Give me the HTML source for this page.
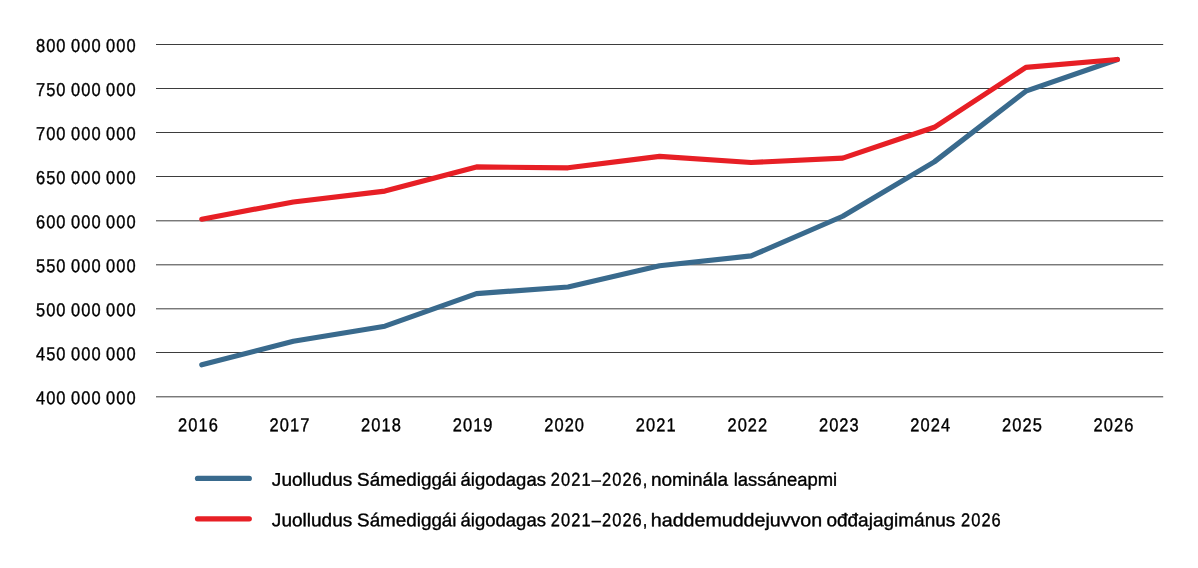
<!DOCTYPE html>
<html lang="se">
<head>
<meta charset="utf-8">
<title>Juolludus Sámediggái áigodagas 2021–2026</title>
<style>
html,body{margin:0;padding:0;background:#fff;}
svg{display:block;}
text{font-family:"Liberation Sans",sans-serif;fill:#000;stroke:#000;stroke-width:0.37px;stroke-linejoin:round;}
</style>
</head>
<body>
<svg width="1198" height="568" viewBox="0 0 1198 568">
<rect width="1198" height="568" fill="#fff"/>
<g stroke="#3d3d3d" stroke-width="1" fill="none">
<line x1="156.0" y1="44.50" x2="1163.2" y2="44.50"/>
<line x1="156.0" y1="88.50" x2="1163.2" y2="88.50"/>
<line x1="156.0" y1="132.50" x2="1163.2" y2="132.50"/>
<line x1="156.0" y1="176.50" x2="1163.2" y2="176.50"/>
<line x1="156.0" y1="220.82" x2="1163.2" y2="220.82"/>
<line x1="156.0" y1="264.82" x2="1163.2" y2="264.82"/>
<line x1="156.0" y1="308.82" x2="1163.2" y2="308.82"/>
<line x1="156.0" y1="352.50" x2="1163.2" y2="352.50"/>
<line x1="156.0" y1="396.82" x2="1163.2" y2="396.82"/>
</g>
<g>
<text transform="matrix(0.885 0.0006 0 1 35.93 51.966)" font-size="18.6" letter-spacing="1.215" word-spacing="-1.411">800 000 000</text>
<text transform="matrix(0.885 0.0006 0 1 35.93 95.966)" font-size="18.6" letter-spacing="1.215" word-spacing="-1.411">750 000 000</text>
<text transform="matrix(0.885 0.0006 0 1 35.93 139.966)" font-size="18.6" letter-spacing="1.215" word-spacing="-1.411">700 000 000</text>
<text transform="matrix(0.885 0.0006 0 1 35.93 183.966)" font-size="18.6" letter-spacing="1.215" word-spacing="-1.411">650 000 000</text>
<text transform="matrix(0.885 0.0006 0 1 35.93 228.216)" font-size="18.6" letter-spacing="1.215" word-spacing="-1.411">600 000 000</text>
<text transform="matrix(0.885 0.0006 0 1 35.93 272.216)" font-size="18.6" letter-spacing="1.215" word-spacing="-1.411">550 000 000</text>
<text transform="matrix(0.885 0.0006 0 1 35.93 316.216)" font-size="18.6" letter-spacing="1.215" word-spacing="-1.411">500 000 000</text>
<text transform="matrix(0.885 0.0006 0 1 35.93 360.216)" font-size="18.6" letter-spacing="1.215" word-spacing="-1.411">450 000 000</text>
<text transform="matrix(0.885 0.0006 0 1 35.93 404.216)" font-size="18.6" letter-spacing="1.215" word-spacing="-1.411">400 000 000</text>
</g>
<g>
<text transform="matrix(0.885 0.0006 0 1 177.99 431.236)" font-size="18.6" letter-spacing="1.215" word-spacing="-1.411">2016</text>
<text transform="matrix(0.885 0.0006 0 1 269.60 431.236)" font-size="18.6" letter-spacing="1.215" word-spacing="-1.411">2017</text>
<text transform="matrix(0.885 0.0006 0 1 361.11 431.236)" font-size="18.6" letter-spacing="1.215" word-spacing="-1.411">2018</text>
<text transform="matrix(0.885 0.0006 0 1 452.70 431.236)" font-size="18.6" letter-spacing="1.215" word-spacing="-1.411">2019</text>
<text transform="matrix(0.885 0.0006 0 1 544.20 431.236)" font-size="18.6" letter-spacing="1.215" word-spacing="-1.411">2020</text>
<text transform="matrix(0.885 0.0006 0 1 635.84 431.236)" font-size="18.6" letter-spacing="1.215" word-spacing="-1.411">2021</text>
<text transform="matrix(0.885 0.0006 0 1 727.42 431.236)" font-size="18.6" letter-spacing="1.215" word-spacing="-1.411">2022</text>
<text transform="matrix(0.885 0.0006 0 1 818.93 431.236)" font-size="18.6" letter-spacing="1.215" word-spacing="-1.411">2023</text>
<text transform="matrix(0.885 0.0006 0 1 910.37 431.236)" font-size="18.6" letter-spacing="1.215" word-spacing="-1.411">2024</text>
<text transform="matrix(0.885 0.0006 0 1 1002.04 431.236)" font-size="18.6" letter-spacing="1.215" word-spacing="-1.411">2025</text>
<text transform="matrix(0.885 0.0006 0 1 1093.62 431.236)" font-size="18.6" letter-spacing="1.215" word-spacing="-1.411">2026</text>
</g>
<polyline points="201.78,364.76 293.35,341.33 384.91,326.18 476.47,293.59 568.04,286.98 659.60,265.76 751.16,255.89 842.73,216.26 934.29,161.91 1025.85,91.18 1117.42,59.47" fill="none" stroke="#396a8d" stroke-width="5.15" stroke-linecap="round" stroke-linejoin="round"/>
<polyline points="201.78,219.16 293.35,201.99 384.91,191.07 476.47,166.93 568.04,167.81 659.60,156.36 751.16,162.53 842.73,158.12 934.29,127.30 1025.85,67.40 1117.42,59.47" fill="none" stroke="#e71f25" stroke-width="5.15" stroke-linecap="round" stroke-linejoin="round"/>
<line x1="197.475" y1="478.43" x2="249.32500000000002" y2="478.43" stroke="#396a8d" stroke-width="5.15" stroke-linecap="round"/>
<line x1="197.475" y1="518.8" x2="249.32500000000002" y2="518.8" stroke="#e71f25" stroke-width="5.15" stroke-linecap="round"/>
<g>
<text transform="matrix(1.0347 0.0006 0 1 271.87 485.727)" font-size="18.4">Juolludus</text>
<text transform="matrix(1.0237 0.0006 0 1 357.09 485.721)" font-size="18.4">Sámediggái</text>
<text transform="matrix(1.0057 0.0006 0 1 460.59 485.724)" font-size="18.4">áigodagas</text>
<text transform="matrix(0.885 0.0006 0 1 550.84 485.717)" font-size="18.6" letter-spacing="1.215" word-spacing="-1.411">2021–2026,</text>
<text transform="matrix(1.0323 0.0006 0 1 650.92 485.727)" font-size="18.4">nominála</text>
<text transform="matrix(1.0020 0.0006 0 1 733.74 485.719)" font-size="18.4">lassáneapmi</text>
</g>
<g>
<text transform="matrix(1.0347 0.0006 0 1 271.87 526.227)" font-size="18.4">Juolludus</text>
<text transform="matrix(1.0237 0.0006 0 1 357.09 526.221)" font-size="18.4">Sámediggái</text>
<text transform="matrix(1.0057 0.0006 0 1 460.59 526.224)" font-size="18.4">áigodagas</text>
<text transform="matrix(0.885 0.0006 0 1 550.84 526.217)" font-size="18.6" letter-spacing="1.215" word-spacing="-1.411">2021–2026,</text>
<text transform="matrix(1.0675 0.0006 0 1 650.83 526.202)" font-size="18.4">haddemuddejuvvon</text>
<text transform="matrix(1.0338 0.0006 0 1 826.38 526.213)" font-size="18.4">ođđajagimánus</text>
<text transform="matrix(0.885 0.0006 0 1 960.94 526.236)" font-size="18.6" letter-spacing="1.215" word-spacing="-1.411">2026</text>
</g>
</svg>
</body>
</html>
